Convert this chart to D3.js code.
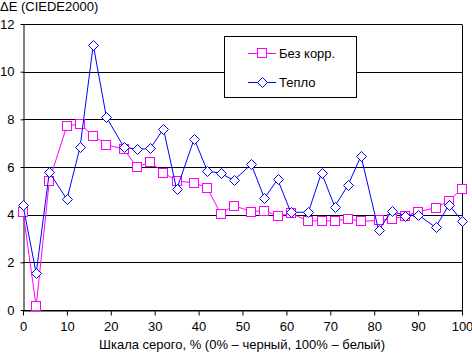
<!DOCTYPE html>
<html>
<head>
<meta charset="utf-8">
<script src="https://cdn.jsdelivr.net/npm/d3@7"></script>
<style>
    body { margin: 0; background: #fff; }
    text { font-family: "Liberation Sans", Arial, sans-serif; font-size: 13px; fill: #000; }
</style>
</head>
<body>
<div id="chart"></div>
<script>
    // grey level, %
    const levels = [0, 3, 6, 10, 13, 16, 19, 23, 26, 29, 32, 35, 39, 42, 45, 48,
                    52, 55, 58, 61, 65, 68, 71, 74, 77, 81, 84, 87, 90, 94, 97, 100];

    const noCorr = [4.12, 0.15, 5.43, 7.73, 7.8, 7.31, 6.94, 6.74, 5.99, 6.22, 5.76, 5.41, 5.34, 5.12, 4.04, 4.38,
                    4.13, 4.17, 3.94, 4.06, 3.73, 3.75, 3.73, 3.83, 3.72, 3.76, 3.82, 3.94, 4.12, 4.29, 4.57, 5.09];

    const warm = [4.4, 1.54, 5.78, 4.64, 6.83, 11.12, 8.09, 6.83, 6.74, 6.78, 7.6, 5.06, 7.18, 5.83, 5.74, 5.44,
                  6.11, 4.69, 5.48, 4.1, 4.1, 5.76, 4.34, 5.23, 6.46, 3.35, 4.15, 3.96, 3.99, 3.47, 4.41, 3.75];

    const xTicks = [0, 10, 20, 30, 40, 50, 60, 70, 80, 90, 100];
    const yTicks = [0, 2, 4, 6, 8, 10, 12];

    const seriesNames = ["Без корр.", "Тепло"];

    let W = 472, H = 353;

    let svg = d3.select("#chart")
        .append("svg")
        .attr("width", W)
        .attr("height", H);

    let x = d3.scaleLinear().domain([0, 100]).range([23, 462]);
    let y = d3.scaleLinear().domain([0, 12]).range([310, 24]);

    // grid lines
    svg.selectAll(".grid")
        .data(yTicks)
        .join("line")
        .attr("x1", x(0))
        .attr("x2", x(100))
        .attr("y1", d => Math.round(y(d)) + 0.5)
        .attr("y2", d => Math.round(y(d)) + 0.5)
        .attr("stroke", "#000");

    // right border
    svg.append("line")
        .attr("x1", Math.round(x(100)) + 0.5)
        .attr("x2", Math.round(x(100)) + 0.5)
        .attr("y1", Math.round(y(12)) + 0.5)
        .attr("y2", Math.round(y(0)) + 0.5)
        .attr("stroke", "#000");

    // x axis
    let xAxis = svg.append("g")
        .attr("transform", `translate(0, ${Math.round(y(0)) + 0.5})`)
        .call(d3.axisBottom(x).tickValues(xTicks).tickSize(5).tickPadding(6).tickSizeOuter(0));
    xAxis.select(".domain").attr("stroke", "#000");
    xAxis.selectAll("line").attr("stroke", "#000");
    xAxis.selectAll("text").style("font-size", "13px");

    // y axis
    let yAxis = svg.append("g")
        .attr("transform", `translate(${Math.round(x(0)) + 0.5}, 0)`)
        .call(d3.axisLeft(y).tickValues(yTicks).tickSize(3).tickPadding(6).tickSizeOuter(0));
    yAxis.select(".domain").attr("stroke", "#000");
    yAxis.selectAll("line").attr("stroke", "#000");
    yAxis.selectAll("text").style("font-size", "13px");
    svg.selectAll(".tick text").attr("font-family", null);

    // titles
    svg.append("text")
        .attr("x", 0)
        .attr("y", 11)
        .text("ΔE (CIEDE2000)");

    svg.append("text")
        .attr("x", 242)
        .attr("y", 349)
        .attr("text-anchor", "middle")
        .text("Шкала серого, % (0% – черный, 100% – белый)");

    let line = d3.line()
        .x((d, i) => x(levels[i]))
        .y(d => y(d));

    function square(g, cx, cy, color) {
        g.append("rect")
            .attr("x", Math.round(cx) - 4.5)
            .attr("y", Math.round(cy) - 4.5)
            .attr("width", 9)
            .attr("height", 9)
            .attr("fill", "#fff")
            .attr("stroke", color);
    }

    function diamond(g, cx, cy, color) {
        let px = Math.round(cx) + 0.5, py = Math.round(cy) + 0.5;
        g.append("path")
            .attr("d", `M${px},${py - 5}L${px + 5},${py}L${px},${py + 5}L${px - 5},${py}Z`)
            .attr("fill", "#fff")
            .attr("stroke", color);
    }

    // series 1
    svg.append("path")
        .datum(noCorr)
        .attr("d", line)
        .attr("fill", "none")
        .attr("stroke", "#ff00ff");
    let g1 = svg.append("g");
    noCorr.forEach((d, i) => square(g1, x(levels[i]), y(d), "#ff00ff"));

    // series 2
    svg.append("path")
        .datum(warm)
        .attr("d", line)
        .attr("fill", "none")
        .attr("stroke", "#0000ff");
    let g2 = svg.append("g");
    warm.forEach((d, i) => diamond(g2, x(levels[i]), y(d), "#0000ff"));

    // legend
    let legend = svg.append("g");
    legend.append("rect")
        .attr("x", 224.5)
        .attr("y", 36.5)
        .attr("width", 132)
        .attr("height", 61)
        .attr("fill", "#fff")
        .attr("stroke", "#000");

    let colors = ["#ff00ff", "#0000ff"];
    let rows = [53, 82];
    seriesNames.forEach((name, i) => {
        legend.append("line")
            .attr("x1", 248)
            .attr("x2", 276)
            .attr("y1", rows[i] + 0.5)
            .attr("y2", rows[i] + 0.5)
            .attr("stroke", colors[i]);
        if (i === 0) square(legend, 262, rows[i], colors[i]);
        else diamond(legend, 262, rows[i], colors[i]);
        legend.append("text")
            .attr("x", 279)
            .attr("y", rows[i] + 5)
            .text(name);
    });
</script>
</body>
</html>
